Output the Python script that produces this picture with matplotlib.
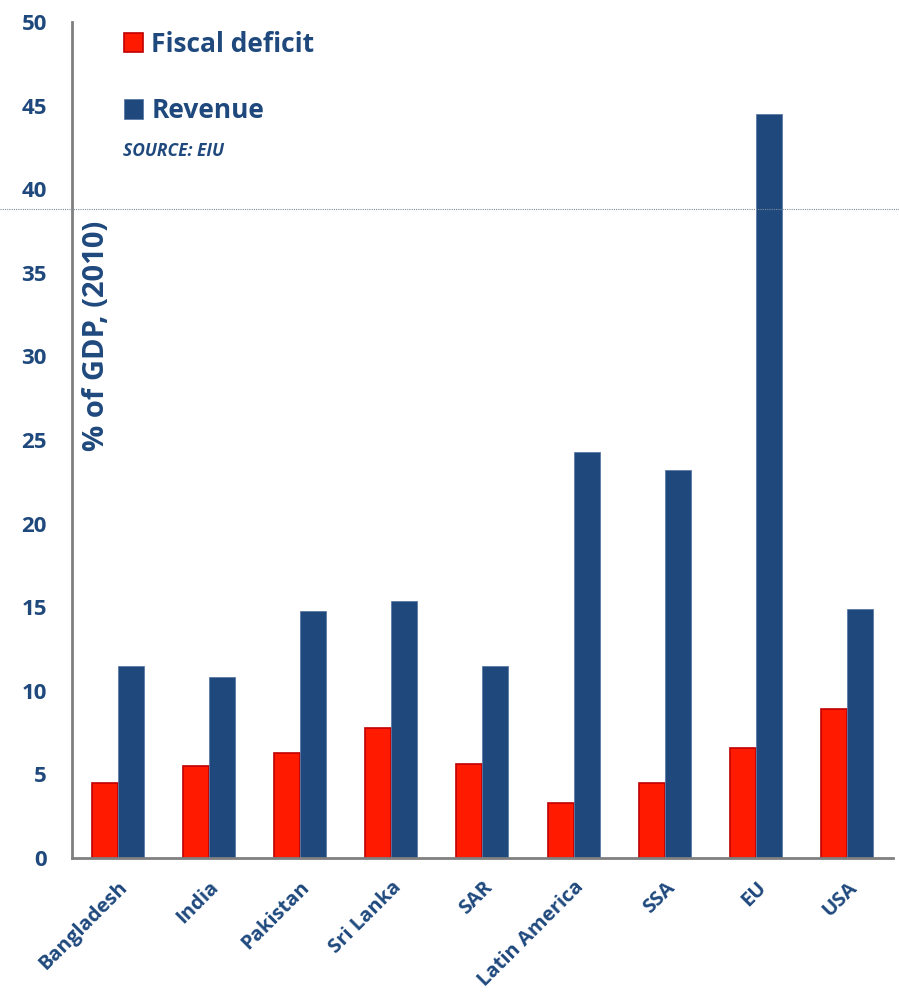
import numpy as np
import matplotlib
matplotlib.use("Agg")
import matplotlib.pyplot as plt
from matplotlib.lines import Line2D

regions = ["Bangladesh", "India", "Pakistan", "Sri Lanka", "SAR",
           "Latin America", "SSA", "EU", "USA"]
fiscal_deficit = [4.5, 5.5, 6.3, 7.8, 5.6, 3.3, 4.5, 6.6, 8.9]
revenue = [11.5, 10.8, 14.8, 15.4, 11.5, 24.3, 23.2, 44.5, 14.9]

NAVY = "#1F497D"
RED = "#FF1A00"

plt.rcParams["font.family"] = ["Open Sans", "DejaVu Sans"]

fig = plt.figure(figsize=(8.99, 9.97), dpi=100)
ax = fig.add_axes([0.080, 0.1394, 0.9133, 0.8386])

x = np.arange(len(regions))
w = 0.285
b1 = ax.bar(x - w / 2, fiscal_deficit, w, color=RED, edgecolor="#C00000",
            linewidth=1.2, label="Fiscal deficit")
b2 = ax.bar(x + w / 2, revenue, w, color=NAVY, edgecolor="#5B7AA8",
            linewidth=0.6, label="Revenue")

ax.set_xlim(-0.5, len(regions) - 0.5)
ax.set_ylim(0, 50)
ax.set_yticks(range(0, 51, 5))
ax.set_xticks(x)
ax.set_xticklabels(regions, rotation=45, ha="right", rotation_mode="anchor")

for s in ["top", "right"]:
    ax.spines[s].set_visible(False)
for s in ["left", "bottom"]:
    ax.spines[s].set_color("#808080")
    ax.spines[s].set_linewidth(2)

ax.tick_params(axis="y", length=0, pad=18, labelsize=16, labelcolor=NAVY)
ax.tick_params(axis="x", length=0, pad=14, labelsize=14.5, labelcolor=NAVY)
for lab in ax.get_xticklabels() + ax.get_yticklabels():
    lab.set_fontweight("bold")

# y label sits inside the plot area
ax.text(0.03, 0.625, "% of GDP, (2010)", transform=ax.transAxes, rotation=90,
        ha="center", va="center", fontsize=21, fontweight="bold", color=NAVY)

leg = ax.legend(handles=[b1, b2], loc="upper left", bbox_to_anchor=(0.034, 1.018),
                frameon=False, fontsize=19, labelspacing=1.5,
                handlelength=0.75, handleheight=0.75, handletextpad=0.3)
for t in leg.get_texts():
    t.set_color(NAVY)
    t.set_fontweight("bold")

ax.text(0.0625, 0.846, "SOURCE: EIU", transform=ax.transAxes, fontsize=12.5,
        fontweight="bold", style="italic", color=NAVY, va="center")

# thin separator line across the whole figure
fig.add_artist(Line2D([0, 1], [0.7904, 0.7904], transform=fig.transFigure,
                      color="#7F8C9A", linewidth=0.8, linestyle=(0, (1, 1))))

fig.savefig("out.png", dpi=100)
